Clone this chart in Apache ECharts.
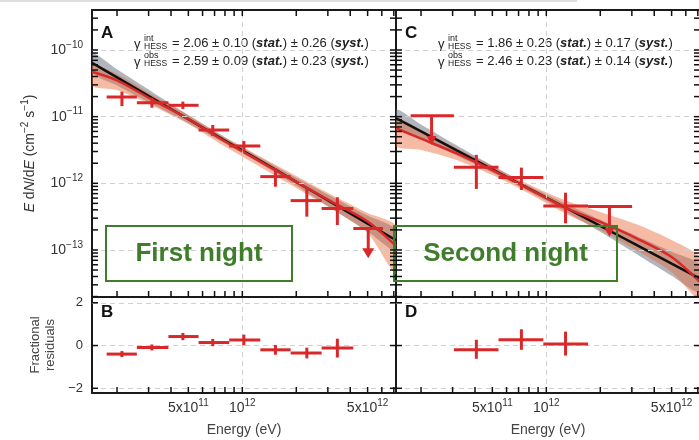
<!DOCTYPE html>
<html>
<head>
<meta charset="utf-8">
<script src="https://cdn.jsdelivr.net/npm/echarts@6.0.0/dist/echarts.min.js"></script>
<style>
  html, body { margin: 0; padding: 0; background: #fff; }
  #chart { width: 699px; height: 440px; }
</style>
</head>
<body>
<div id="chart"></div>
<script>
// ---- axis ranges (eV, cm^-2 s^-1) ----
const eMin = 1.45e11, eMax = 7.2e12;
const fMin = 1.97e-14, fMax = 3.98e-10;
const rMin = -2.22, rMax = 2.27;

// tick positions and labels
const eTicks = [2e11, 3e11, 4e11, 5e11, 6e11, 7e11, 8e11, 9e11, 1e12, 2e12, 3e12, 4e12, 5e12, 6e12, 7e12];
const eLabels = [5e11, 1e12, 5e12];
const fDecades = [-14, -13, -12, -11, -10];
const fMantissas = [1, 2, 3, 4, 5, 6, 7, 8, 9];
const fLabels = [1e-13, 1e-12, 1e-11, 1e-10];
const rTicks = [-2, 0, 2];

// ---- model curves, sampled at these energies ----
const curveE = [1.45e11, 2.0e11, 3.16e11, 5.0e11, 7.9e11, 1.26e12, 2.0e12, 3.16e12, 5.0e12, 7.2e12];

// first night
const n1Black = [6.43e-11, 3.88e-11, 1.89e-11, 9.16e-12, 4.46e-12, 2.17e-12, 1.05e-12, 5.13e-13, 2.49e-13, 1.40e-13];
const n1Red = [4.72e-11, 3.50e-11, 1.78e-11, 9.22e-12, 4.35e-12, 2.12e-12, 1.05e-12, 5.27e-13, 2.68e-13, 1.15e-13];
const n1GrayHi = [9.08e-11, 5.12e-11, 2.32e-11, 1.05e-11, 4.94e-12, 2.41e-12, 1.21e-12, 6.3e-13, 3.28e-13, 2.04e-13];
const n1GrayLo = [4.55e-11, 2.94e-11, 1.53e-11, 7.98e-12, 4.02e-12, 1.96e-12, 9.18e-13, 4.17e-13, 1.89e-13, 9.55e-14];
const n1OrangeHi = [5.96e-11, 4.37e-11, 2.11e-11, 1.06e-11, 5.04e-12, 2.53e-12, 1.29e-12, 6.68e-13, 3.59e-13, 2.29e-13];
const n1OrangeLo = [2.88e-11, 2.51e-11, 1.45e-11, 7.76e-12, 3.63e-12, 1.76e-12, 8.51e-13, 4.12e-13, 1.80e-13, 4.36e-14];

// second night
const n2Black = [9.46e-12, 6.0e-12, 3.12e-12, 1.62e-12, 8.45e-13, 4.41e-13, 2.30e-13, 1.20e-13, 6.23e-14, 3.71e-14];
const n2Red = [6.70e-12, 4.68e-12, 2.81e-12, 1.58e-12, 8.42e-13, 4.37e-13, 2.63e-13, 1.51e-13, 7.85e-14, 3.31e-14];
const n2GrayHi = [1.29e-11, 7.64e-12, 3.71e-12, 1.83e-12, 9.38e-13, 5.07e-13, 2.83e-13, 1.63e-13, 9.42e-14, 6.02e-14];
const n2GrayLo = [6.92e-12, 4.71e-12, 2.62e-12, 1.44e-12, 7.62e-13, 3.85e-13, 1.87e-13, 8.77e-14, 4.11e-14, 2.29e-14];
const n2OrangeHi = [9.55e-12, 6.31e-12, 3.39e-12, 1.82e-12, 9.77e-13, 5.62e-13, 3.72e-13, 2.45e-13, 1.41e-13, 7.59e-14];
const n2OrangeLo = [3.63e-12, 3.16e-12, 2.24e-12, 1.33e-12, 7.16e-13, 3.59e-13, 2.0e-13, 1.0e-13, 4.68e-14, 1.78e-14];

// ---- flux points ----
const n1E = [2.13e11, 3.13e11, 4.66e11, 6.84e11, 1.02e12, 1.53e12, 2.29e12, 3.39e12];
const n1ELo = [1.75e11, 2.58e11, 3.87e11, 5.7e11, 8.45e11, 1.26e12, 1.86e12, 2.77e12];
const n1EHi = [2.58e11, 3.87e11, 5.7e11, 8.45e11, 1.26e12, 1.86e12, 2.77e12, 4.16e12];
const n1F = [1.97e-11, 1.62e-11, 1.48e-11, 6.3e-12, 3.63e-12, 1.26e-12, 5.5e-13, 4.2e-13];
const n1FLo = [1.44e-11, 1.36e-11, 1.30e-11, 5.13e-12, 2.98e-12, 8.9e-13, 3.16e-13, 2.37e-13];
const n1FHi = [2.37e-11, 1.93e-11, 1.68e-11, 7.5e-12, 4.31e-12, 1.68e-12, 8.4e-13, 6.17e-13];
const n1UlE = [5.04e12], n1UlELo = [4.16e12], n1UlEHi = [6.1e12], n1UlF = [2.1e-13], n1UlTip = [7.5e-14];
const n1Res = [-0.4, -0.09, 0.42, 0.14, 0.26, -0.2, -0.35, -0.12];
const n1ResErr = [0.14, 0.14, 0.17, 0.17, 0.25, 0.23, 0.25, 0.44];

const n2E = [4.07e11, 7.26e11, 1.28e12];
const n2ELo = [3.05e11, 5.41e11, 9.62e11];
const n2EHi = [5.41e11, 9.62e11, 1.71e12];
const n2F = [1.74e-12, 1.22e-12, 4.58e-13];
const n2FLo = [8.24e-13, 7.95e-13, 2.51e-13];
const n2FHi = [2.67e-12, 1.72e-12, 7.24e-13];
const n2UlE = [2.29e11, 2.25e12], n2UlELo = [1.75e11, 1.71e12], n2UlEHi = [3.05e11, 3.01e12];
const n2UlF = [1.035e-11, 4.48e-13], n2UlTip = [3.77e-12, 1.58e-13];
const n2Res = [-0.2, 0.27, 0.07];
const n2ResLo = [-0.62, -0.2, -0.47];
const n2ResHi = [0.27, 0.76, 0.65];

const lg = Math.log10;
const RED = '#d8282a';
const AX = '#1a1a1a';
const FONT = '"Liberation Sans", Arial, Helvetica, sans-serif';
const TICK_PX = 6;

const fTicks = [];
fDecades.forEach(d => fMantissas.forEach(m => {
  const v = m * Math.pow(10, d);
  if (v > fMin && v < fMax) fTicks.push(lg(v));
}));
const eTickVals = eTicks.map(v => lg(v));

const supRich = {
  b: { fontSize: 14, lineHeight: 20, color: '#333', fontFamily: FONT },
  s: { fontSize: 10, lineHeight: 11, color: '#333', fontFamily: FONT, verticalAlign: 'top' }
};

function energyLabel(v) {
  const ex = Math.floor(v + 1e-6);
  const m = Math.round(Math.pow(10, v - ex));
  return (m === 1 ? '{b|10}' : '{b|' + m + 'x10}') + '{s|' + ex + '}';
}

function xAx(grid, pos, extra) {
  return Object.assign({
    type: 'value', gridIndex: grid, position: pos, min: lg(eMin), max: lg(eMax),
    axisLine: { show: true, onZero: false, lineStyle: { color: AX, width: 2 } },
    axisTick: { show: false },
    axisLabel: { show: false },
    splitLine: { show: false }
  }, extra || {});
}

function yAx(grid, pos, residual, extra) {
  return Object.assign({
    type: 'value', gridIndex: grid, position: pos,
    min: residual ? rMin : lg(fMin), max: residual ? rMax : lg(fMax),
    axisLine: { show: true, onZero: false, lineStyle: { color: AX, width: 2 } },
    axisTick: { show: false },
    axisLabel: { show: false },
    splitLine: { show: false }
  }, extra || {});
}

function bandSeries(xi, yi, hi, lo, fill) {
  return {
    type: 'custom', xAxisIndex: xi, yAxisIndex: yi, z: 2, clip: true, silent: true,
    data: [[lg(curveE[0]), lg(hi[0])]],
    renderItem: function (params, api) {
      const pts = [];
      curveE.forEach((e, i) => pts.push(api.coord([lg(e), lg(hi[i])])));
      for (let i = curveE.length - 1; i >= 0; i--) pts.push(api.coord([lg(curveE[i]), lg(lo[i])]));
      return { type: 'polygon', shape: { points: pts, smooth: 0.25 }, style: { fill: fill } };
    }
  };
}

function curveSeries(xi, yi, vals, color, width) {
  return {
    type: 'line', xAxisIndex: xi, yAxisIndex: yi, z: 3, silent: true, smooth: 0.3,
    symbol: 'none', lineStyle: { color: color, width: width },
    data: curveE.map((e, i) => [lg(e), lg(vals[i])])
  };
}

function crossSeries(xi, yi, rows, width) {
  return {
    type: 'custom', xAxisIndex: xi, yAxisIndex: yi, z: 5, silent: true,
    data: rows,
    renderItem: function (params, api) {
      const l = api.coord([api.value(2), api.value(1)]);
      const r = api.coord([api.value(3), api.value(1)]);
      const b = api.coord([api.value(0), api.value(4)]);
      const t = api.coord([api.value(0), api.value(5)]);
      const st = { stroke: RED, lineWidth: width };
      return { type: 'group', children: [
        { type: 'line', shape: { x1: l[0], y1: l[1], x2: r[0], y2: r[1] }, style: st },
        { type: 'line', shape: { x1: b[0], y1: b[1], x2: t[0], y2: t[1] }, style: st }
      ] };
    }
  };
}

function limitSeries(xi, yi, rows, head) {
  return {
    type: 'custom', xAxisIndex: xi, yAxisIndex: yi, z: 5, silent: true,
    data: rows,
    renderItem: function (params, api) {
      const l = api.coord([api.value(2), api.value(1)]);
      const r = api.coord([api.value(3), api.value(1)]);
      const top = api.coord([api.value(0), api.value(1)]);
      const tip = api.coord([api.value(0), api.value(4)]);
      const st = { stroke: RED, lineWidth: 3 };
      return { type: 'group', children: [
        { type: 'line', shape: { x1: l[0], y1: l[1], x2: r[0], y2: r[1] }, style: st },
        { type: 'line', shape: { x1: top[0], y1: top[1], x2: tip[0], y2: tip[1] - head[1] + 1 }, style: st },
        { type: 'polygon', shape: { points: [[tip[0] - head[0] / 2, tip[1] - head[1]], [tip[0] + head[0] / 2, tip[1] - head[1]], [tip[0], tip[1]]] }, style: { fill: RED } }
      ] };
    }
  };
}

function gridLines(xi, yi, ys) {
  return {
    type: 'line', xAxisIndex: xi, yAxisIndex: yi, z: 1, silent: true, symbol: 'none',
    lineStyle: { opacity: 0 }, data: [[12, ys[0]]],
    markLine: {
      silent: true, symbol: ['none', 'none'], animation: false, label: { show: false },
      lineStyle: { color: '#d0d0d0', type: [5, 4], width: 1 },
      data: ys.map(y => ({ yAxis: y })).concat([{ xAxis: 12 }])
    }
  };
}

const fluxRows = (E, lo, hi, F, FLo, FHi) => E.map((e, i) => [lg(e), lg(F[i]), lg(lo[i]), lg(hi[i]), lg(FLo[i]), lg(FHi[i])]);
const limitRows = (E, lo, hi, F, tip) => E.map((e, i) => [lg(e), lg(F[i]), lg(lo[i]), lg(hi[i]), lg(tip[i])]);

const n1ResRows = n1E.map((e, i) => [lg(e), n1Res[i], lg(n1ELo[i]), lg(n1EHi[i]), n1Res[i] - n1ResErr[i], n1Res[i] + n1ResErr[i]]);
const n2ResRows = n2E.map((e, i) => [lg(e), n2Res[i], lg(n2ELo[i]), lg(n2EHi[i]), n2ResLo[i], n2ResHi[i]]);

// ---- annotation text ----
function gammaText(x, yc, sup, val1, val2, val3) {
  const base = { fontFamily: FONT, fill: '#222' };
  return [
    { type: 'text', x: x, y: yc + 1, style: Object.assign({ text: 'γ', fontSize: 13, textVerticalAlign: 'middle', verticalAlign: 'middle' }, base) },
    { type: 'text', x: x + 10, y: yc - 5, style: Object.assign({ text: sup, fontSize: 9, textVerticalAlign: 'middle', verticalAlign: 'middle' }, base) },
    { type: 'text', x: x + 10, y: yc + 3, style: Object.assign({ text: 'HESS', fontSize: 8.5, textVerticalAlign: 'middle', verticalAlign: 'middle' }, base) },
    { type: 'text', x: x + 38, y: yc, style: Object.assign({
        text: '{n|= ' + val1 + ' ± ' + val2 + ' (}{bi|stat.}{n|) ± ' + val3 + ' (}{bi|syst.}{n|)}',
        textVerticalAlign: 'middle', verticalAlign: 'middle',
        rich: {
          n: { fontSize: 13, fontFamily: FONT, fill: '#222' },
          bi: { fontSize: 13, fontFamily: FONT, fill: '#222', fontWeight: 'bold', fontStyle: 'italic' }
        }
      }, base) }
  ];
}

function letter(x, y, t) {
  return { type: 'text', x: x, y: y, style: { text: t, fontSize: 17, fontWeight: 'bold', fontFamily: '"Liberation Sans Narrow", "Liberation Sans", Arial, sans-serif', fill: '#111', textVerticalAlign: 'middle', verticalAlign: 'middle' } };
}

function nightBox(x, y, w, h, t) {
  return [
    { type: 'rect', z: 20, shape: { x: x, y: y, width: w, height: h }, style: { fill: 'none', stroke: '#3e7d2a', lineWidth: 2 } },
    { type: 'text', z: 20, x: x + w / 2, y: y + h / 2, style: { text: t, fontSize: 26, fontWeight: 'bold', fontFamily: FONT, fill: '#3e7d2a', textAlign: 'center', align: 'center', textVerticalAlign: 'middle', verticalAlign: 'middle' } }
  ];
}

const chart = echarts.init(document.getElementById('chart'), null, { renderer: 'canvas' });

chart.setOption({
  animation: false,
  backgroundColor: '#fff',
  textStyle: { fontFamily: FONT },
  grid: [
    { left: 92, top: 10, width: 304, height: 287, containLabel: false, outerBoundsMode: 'none' },
    { left: 92, top: 297, width: 304, height: 96, containLabel: false, outerBoundsMode: 'none' },
    { left: 396, top: 10, width: 304, height: 287, containLabel: false, outerBoundsMode: 'none' },
    { left: 396, top: 297, width: 304, height: 96, containLabel: false, outerBoundsMode: 'none' }
  ],
  xAxis: [
    xAx(0, 'bottom'),
    xAx(0, 'top'),
    xAx(1, 'bottom', {
      name: 'Energy (eV)', nameLocation: 'middle', nameGap: 30,
      nameTextStyle: { fontSize: 14, color: '#444', fontFamily: FONT },
      axisLabel: { show: true, customValues: eLabels.map(v => lg(v)), margin: 5, formatter: energyLabel, rich: supRich }
    }),
    xAx(2, 'bottom'),
    xAx(2, 'top'),
    xAx(3, 'bottom', {
      name: 'Energy (eV)', nameLocation: 'middle', nameGap: 30,
      nameTextStyle: { fontSize: 14, color: '#444', fontFamily: FONT },
      axisLabel: { show: true, customValues: eLabels.map(v => lg(v)), margin: 5, formatter: energyLabel, rich: supRich }
    })
  ],
  yAxis: [
    yAx(0, 'left', false, {
      name: '{i|E} d{i|N}/d{i|E} (cm{s|−2} s{s|−1})', nameLocation: 'middle', nameGap: 52, nameRotate: 90,
      nameTextStyle: {
        fontSize: 14, color: '#333', fontFamily: FONT,
        rich: {
          i: { fontSize: 14, fontStyle: 'italic', color: '#333', lineHeight: 20, fontFamily: FONT },
          s: { fontSize: 10, color: '#333', lineHeight: 11, verticalAlign: 'top', fontFamily: FONT }
        }
      },
      axisLabel: { show: true, customValues: fLabels.map(v => lg(v)), margin: 9, rich: supRich,
        formatter: v => '{b|10}{s|−' + Math.round(-v) + '}' }
    }),
    yAx(0, 'right', false),
    yAx(1, 'left', true, {
      name: 'Fractional\nresiduals', nameLocation: 'middle', nameGap: 34, nameRotate: 90,
      nameTextStyle: { fontSize: 13, color: '#444', lineHeight: 15, fontFamily: FONT },
      axisLabel: { show: true, customValues: rTicks, margin: 9, fontSize: 13, color: '#333',
        formatter: v => (v < 0 ? '−' + Math.abs(v) : String(v)) }
    }),
    yAx(1, 'right', true),
    yAx(2, 'left', false),
    yAx(2, 'right', false),
    yAx(3, 'left', true),
    yAx(3, 'right', true)
  ],
  series: [
    // first night
    gridLines(0, 0, [-13, -12, -11, -10]),
    bandSeries(0, 0, n1GrayHi, n1GrayLo, 'rgba(100,110,125,0.5)'),
    bandSeries(0, 0, n1OrangeHi, n1OrangeLo, 'rgba(232,105,55,0.45)'),
    curveSeries(0, 0, n1Black, '#111', 2.5),
    curveSeries(0, 0, n1Red, RED, 2.5),
    crossSeries(0, 0, fluxRows(n1E, n1ELo, n1EHi, n1F, n1FLo, n1FHi), 3),
    limitSeries(0, 0, limitRows(n1UlE, n1UlELo, n1UlEHi, n1UlF, n1UlTip), [12, 10]),
    gridLines(2, 2, [-2, 0, 2]),
    crossSeries(2, 2, n1ResRows, 3),
    // second night
    gridLines(3, 4, [-13, -12, -11, -10]),
    bandSeries(3, 4, n2GrayHi, n2GrayLo, 'rgba(100,110,125,0.5)'),
    bandSeries(3, 4, n2OrangeHi, n2OrangeLo, 'rgba(232,105,55,0.45)'),
    curveSeries(3, 4, n2Black, '#111', 2.5),
    curveSeries(3, 4, n2Red, RED, 2.5),
    crossSeries(3, 4, fluxRows(n2E, n2ELo, n2EHi, n2F, n2FLo, n2FHi), 3),
    limitSeries(3, 4, limitRows(n2UlE, n2UlELo, n2UlEHi, n2UlF, n2UlTip), [10, 9]),
    gridLines(5, 6, [-2, 0, 2]),
    crossSeries(5, 6, n2ResRows, 3)
  ]
});

// inward frame ticks as thin filled rects, positioned through each grid's scales
function frameTicks(gridIndex, xVals, yVals, yLo, yHi, withTop) {
  const finder = { gridIndex: gridIndex };
  const xLo = lg(eMin), xHi = lg(eMax);
  const c0 = chart.convertToPixel(finder, [xLo, yLo]);
  const c1 = chart.convertToPixel(finder, [xHi, yHi]);
  const left = c0[0], bottom = c0[1], right = c1[0], top = c1[1];
  const st = { fill: '#111' };
  const w = 1.5;
  const out = [];
  xVals.forEach(v => {
    const px = chart.convertToPixel(finder, [v, yLo])[0];
    out.push({ type: 'rect', z: 30, silent: true, shape: { x: px - w / 2, y: bottom - TICK_PX, width: w, height: TICK_PX }, style: st });
    if (withTop) out.push({ type: 'rect', z: 30, silent: true, shape: { x: px - w / 2, y: top, width: w, height: TICK_PX }, style: st });
  });
  yVals.forEach(v => {
    const py = chart.convertToPixel(finder, [xLo, v])[1];
    out.push({ type: 'rect', z: 30, silent: true, shape: { x: left, y: py - w / 2, width: TICK_PX, height: w }, style: st });
    out.push({ type: 'rect', z: 30, silent: true, shape: { x: right - TICK_PX, y: py - w / 2, width: TICK_PX, height: w }, style: st });
  });
  return out.filter(el => isFinite(el.shape.x) && isFinite(el.shape.y));
}

const ticks = [].concat(
  frameTicks(0, eTickVals, fTicks, lg(fMin), lg(fMax), true),
  frameTicks(1, eTickVals, rTicks, rMin, rMax, false),
  frameTicks(2, eTickVals, fTicks, lg(fMin), lg(fMax), true),
  frameTicks(3, eTickVals, rTicks, rMin, rMax, false)
);

chart.setOption({
  graphic: [
    { type: 'rect', shape: { x: 0, y: 0, width: 577, height: 2 }, style: { fill: '#dedede' } },
    letter(101, 33, 'A'), letter(101, 312, 'B'), letter(405, 33, 'C'), letter(405, 312, 'D')
  ].concat(
    gammaText(134, 43.5, 'int', '2.06', '0.10', '0.26'),
    gammaText(134, 61, 'obs', '2.59', '0.09', '0.23'),
    gammaText(438, 43.5, 'int', '1.86', '0.26', '0.17'),
    gammaText(438, 61, 'obs', '2.46', '0.23', '0.14'),
    nightBox(106, 226, 186, 55, 'First night'),
    nightBox(394, 226, 223, 55, 'Second night'),
    ticks
  )
});
</script>
</body>
</html>
